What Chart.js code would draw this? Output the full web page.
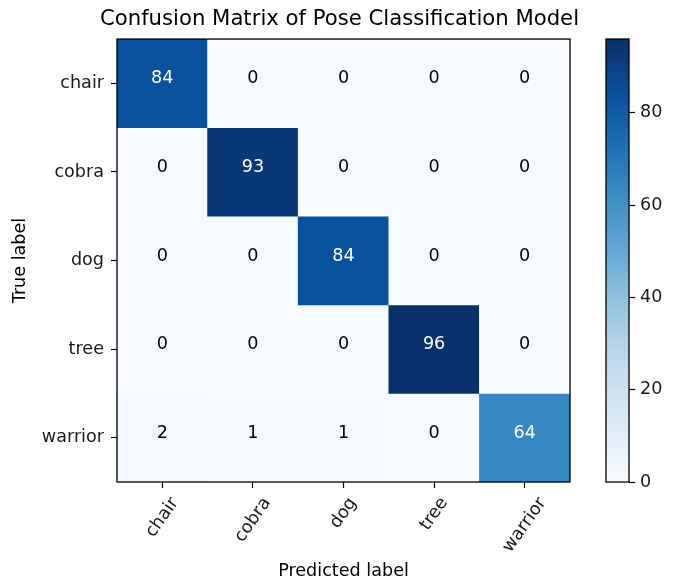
<!DOCTYPE html>
<html>
<head>
<meta charset="utf-8">
<script src="https://cdn.jsdelivr.net/npm/chart.js@4"></script>
<style>
  body { margin: 0; background: #fff; }
  #wrap { position: relative; width: 676px; height: 582px; background: #fff; }
  #matrixChart { position: absolute; left: 0; top: 0; }
  #colorbarChart { position: absolute; left: 590px; top: 0; }
</style>
</head>
<body>
<div id="wrap">
  <canvas id="matrixChart" width="676" height="582"></canvas>
  <canvas id="colorbarChart" width="86" height="582"></canvas>
</div>
<script>
var titleText = 'Confusion Matrix of Pose Classification Model'
var predictedLabels = ['chair', 'cobra', 'dog', 'tree', 'warrior']
var trueLabels = ['chair', 'cobra', 'dog', 'tree', 'warrior']

// one row per true label, columns are predicted labels
var chairCounts = [84, 0, 0, 0, 0]
var cobraCounts = [0, 93, 0, 0, 0]
var dogCounts = [0, 0, 84, 0, 0]
var treeCounts = [0, 0, 0, 96, 0]
var warriorCounts = [2, 1, 1, 0, 64]

var colorbarTicks = [0, 20, 40, 60, 80]

// matplotlib "Blues"
var blues = ['#f7fbff', '#deebf7', '#c6dbef', '#9ecae1', '#6baed6', '#4292c6', '#2171b5', '#08519c', '#08306b']

var rows = [chairCounts, cobraCounts, dogCounts, treeCounts, warriorCounts]
var vmax = Math.max.apply(null, rows.map(function (r) { return Math.max.apply(null, r) }))

var tickFont = 17.6
var labelRotation = 55

Chart.defaults.font.family = '"DejaVu Sans", sans-serif'
Chart.defaults.color = '#1a1a1a'

function hexToRgb(h) {
  return [parseInt(h.substr(1, 2), 16), parseInt(h.substr(3, 2), 16), parseInt(h.substr(5, 2), 16)]
}

function bluesColor(t) {
  t = Math.min(1, Math.max(0, t))
  var pos = t * (blues.length - 1)
  var i = Math.min(Math.floor(pos), blues.length - 2)
  var f = pos - i
  var a = hexToRgb(blues[i])
  var b = hexToRgb(blues[i + 1])
  var c = a.map(function (v, k) { return Math.round(v + (b[k] - v) * f) })
  return 'rgb(' + c.join(',') + ')'
}

var frame = {
  id: 'frame',
  afterDraw: function (chart) {
    var ca = chart.chartArea
    var ctx = chart.ctx
    ctx.save()
    ctx.strokeStyle = '#000'
    ctx.lineWidth = 1.3
    ctx.strokeRect(ca.left, ca.top, ca.right - ca.left, ca.bottom - ca.top)
    ctx.restore()
  }
}

// numbers sit on the cell centre line (matplotlib text default is baseline)
var cellText = {
  id: 'cellText',
  afterDatasetsDraw: function (chart) {
    var ctx = chart.ctx
    ctx.save()
    ctx.font = tickFont + 'px "DejaVu Sans"'
    ctx.textAlign = 'center'
    ctx.textBaseline = 'alphabetic'
    chart.data.datasets.forEach(function (ds, r) {
      chart.getDatasetMeta(r).data.forEach(function (bar, c) {
        var v = rows[r][c]
        ctx.fillStyle = v > vmax / 2 ? '#fff' : '#000'
        ctx.fillText(v, bar.x, (bar.y + bar.base) / 2)
      })
    })
    ctx.restore()
  }
}

// rotated x labels, centred under the tick like matplotlib does
var xLabels = {
  id: 'xLabels',
  afterDraw: function (chart) {
    var ctx = chart.ctx
    var xs = chart.scales.x
    var a = labelRotation * Math.PI / 180
    ctx.save()
    ctx.font = tickFont + 'px "DejaVu Sans"'
    ctx.fillStyle = '#1a1a1a'
    ctx.textAlign = 'center'
    ctx.textBaseline = 'middle'
    predictedLabels.forEach(function (label, i) {
      var x = xs.getPixelForTick(i)
      var w = ctx.measureText(label).width
      var h = tickFont * 1.17
      var bh = w * Math.sin(a) + h * Math.cos(a)
      var cy = chart.chartArea.bottom + 11.7 + bh / 2
      ctx.save()
      ctx.translate(x, cy)
      ctx.rotate(-a)
      ctx.fillText(label, 0, 0)
      ctx.restore()
    })
    ctx.restore()
  }
}

var datasets = rows.map(function (row, r) {
  return {
    label: trueLabels[r],
    data: row.map(function () { return 1 }),
    backgroundColor: row.map(function (v) { return bluesColor(v / vmax) }),
    borderWidth: 0,
    barPercentage: 1,
    categoryPercentage: 1
  }
})

var tickGrid = { offset: false, drawOnChartArea: false, tickLength: 6, tickColor: '#000', tickWidth: 1.2 }

new Chart(document.getElementById('matrixChart'), {
  type: 'bar',
  data: { labels: predictedLabels, datasets: datasets },
  options: {
    responsive: false,
    animation: false,
    layout: { padding: { left: 3, right: 0, top: 0, bottom: 0 } },
    plugins: {
      legend: { display: false },
      tooltip: { enabled: false },
      title: {
        display: true,
        text: titleText,
        color: '#000',
        font: { size: 21.2, weight: 'normal' },
        padding: { top: 7, bottom: 6.6 }
      }
    },
    scales: {
      x: {
        stacked: true,
        grid: tickGrid,
        border: { display: false },
        ticks: { display: false },
        title: { display: true, text: 'Predicted label', color: '#000', font: { size: tickFont }, padding: { top: 0, bottom: 0 } },
        afterFit: function (s) { s.height = 100 }
      },
      y: {
        stacked: true,
        reverse: true,
        min: 0,
        max: trueLabels.length,
        afterBuildTicks: function (s) {
          s.ticks = trueLabels.map(function (n, i) { return { value: i + 0.5 } })
        },
        ticks: {
          font: { size: tickFont },
          padding: 7,
          callback: function (v) { return trueLabels[Math.floor(v)] }
        },
        grid: tickGrid,
        border: { display: false },
        title: { display: true, text: 'True label', color: '#000', font: { size: tickFont }, padding: { top: 6.5, bottom: 0 } },
        afterFit: function (s) { s.width = 114 }
      },
      // empty right-hand axis, keeps room for the colorbar canvas
      spacer: {
        type: 'linear',
        position: 'right',
        grid: { display: false },
        ticks: { display: false },
        border: { display: false },
        afterFit: function (s) { s.width = 106 }
      }
    }
  },
  plugins: [cellText, frame, xLabels]
})

new Chart(document.getElementById('colorbarChart'), {
  type: 'bar',
  data: {
    labels: [''],
    datasets: [{
      data: [vmax],
      backgroundColor: function (context) {
        var ca = context.chart.chartArea
        if (!ca) return blues[0]
        var g = context.chart.ctx.createLinearGradient(0, ca.bottom, 0, ca.top)
        blues.forEach(function (c, i) { g.addColorStop(i / (blues.length - 1), c) })
        return g
      },
      borderWidth: 0,
      barPercentage: 1,
      categoryPercentage: 1
    }]
  },
  options: {
    responsive: false,
    animation: false,
    layout: { padding: { left: 16, right: 0, top: 39, bottom: 100 } },
    plugins: { legend: { display: false }, tooltip: { enabled: false } },
    scales: {
      x: { display: false },
      y: {
        position: 'right',
        min: 0,
        max: vmax,
        afterBuildTicks: function (s) {
          s.ticks = colorbarTicks.map(function (v) { return { value: v } })
        },
        ticks: { font: { size: tickFont }, padding: 5 },
        grid: { drawOnChartArea: false, tickLength: 6, tickColor: '#000', tickWidth: 1.2 },
        border: { display: false },
        afterFit: function (s) { s.width = 47 }
      }
    }
  },
  plugins: [frame]
})
</script>
</body>
</html>
